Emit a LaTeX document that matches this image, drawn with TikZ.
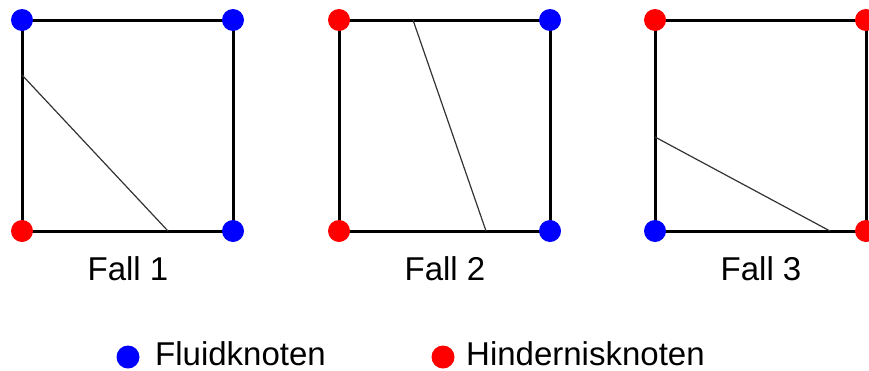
\documentclass[tikz,border=0pt]{standalone}
\usepackage{fontspec}
\setmainfont{Liberation Sans}
\usetikzlibrary{positioning}

\begin{document}
\begin{tikzpicture}[
    x=1pt, y=-1pt,
    knoten/.style={circle, inner sep=0pt, minimum size=22pt},
    fluid/.style={knoten, fill=blue},
    hindernis/.style={knoten, fill=red},
    kante/.style={line width=3pt},
    schnitt/.style={line width=1.2pt, black!80},
    beschriftung/.style={font=\fontsize{33}{38}\selectfont, anchor=base, inner sep=0pt}
  ]
  \useasboundingbox (0,0) rectangle (869,370);

  % Zellen: x-Position, Farben der Ecken (oben links, oben rechts, unten links, unten rechts)
  \foreach \x/\eol/\eor/\eul/\eur [count=\i] in
      {22/fluid/fluid/hindernis/fluid,
       339/hindernis/fluid/hindernis/fluid,
       655/hindernis/hindernis/fluid/hindernis} {
    \coordinate (ol\i) at (\x,20);
    \coordinate (or\i) at (\x+211,20);
    \coordinate (ul\i) at (\x,231);
    \coordinate (ur\i) at (\x+211,231);
    \draw[kante] (ol\i) -- (or\i) -- (ur\i) -- (ul\i) -- cycle;
    \node[beschriftung] (fall\i) at (\x+106,280) {Fall \i};
  }

  % Schnittlinien
  \coordinate (s1a) at (22,75);
  \coordinate (s1b) at (168,231);
  \coordinate (s2a) at (413,20);
  \coordinate (s2b) at (486,231);
  \coordinate (s3a) at (655,137);
  \coordinate (s3b) at (830,231);
  \foreach \i in {1,2,3}
    \draw[schnitt] (s\i a) -- (s\i b);

  % Eckknoten
  \foreach \x/\eol/\eor/\eul/\eur [count=\i] in
      {22/fluid/fluid/hindernis/fluid,
       339/hindernis/fluid/hindernis/fluid,
       655/hindernis/hindernis/fluid/hindernis} {
    \node[\eol] (kol\i) at (ol\i) {};
    \node[\eor] (kor\i) at (or\i) {};
    \node[\eul] (kul\i) at (ul\i) {};
    \node[\eur] (kur\i) at (ur\i) {};
  }

  % Legende
  \node[fluid, minimum size=23pt] (lfluid) at (128,357) {};
  \node[beschriftung, anchor=base west] (tfluid) at (155,365) {Fluidknoten};
  \node[hindernis, minimum size=23pt] (lhind) at (443,357) {};
  \node[beschriftung, anchor=base west] (thind) at (466,365) {Hindernisknoten};
\end{tikzpicture}
\end{document}
